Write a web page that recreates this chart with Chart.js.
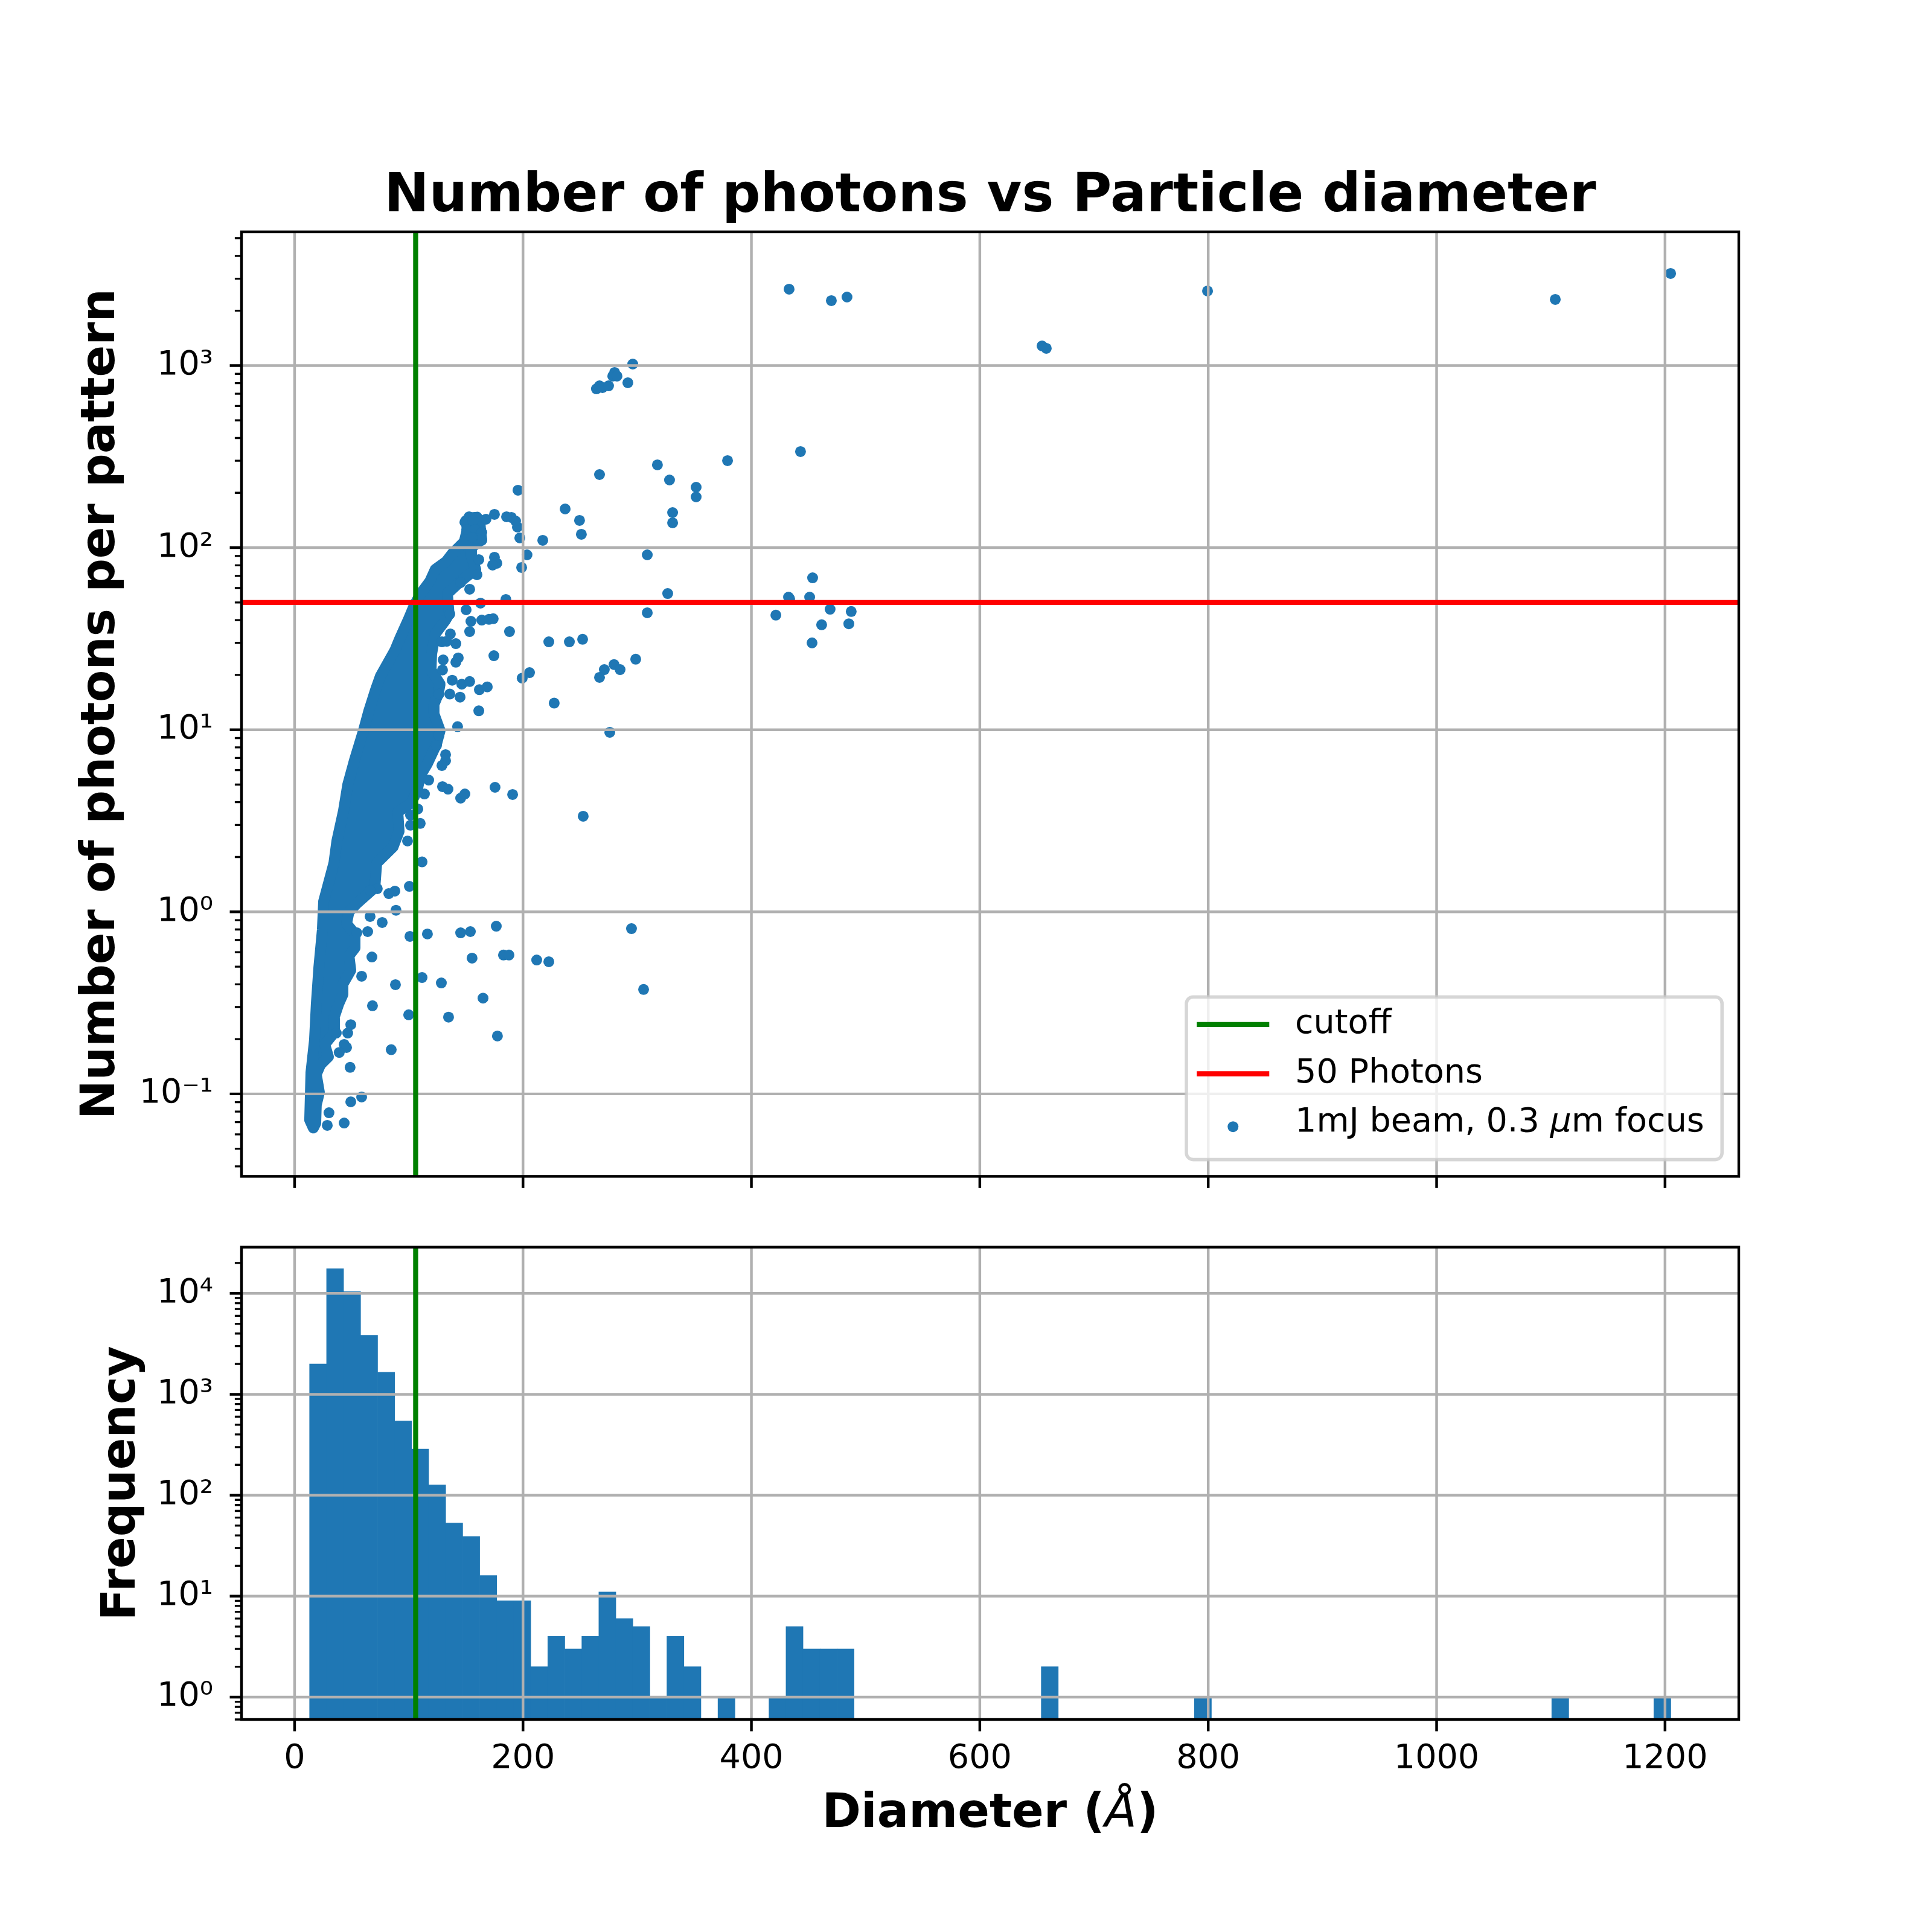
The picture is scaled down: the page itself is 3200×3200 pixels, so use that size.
<!DOCTYPE html>
<html>
<head>
<meta charset="utf-8">
<script src="https://cdn.jsdelivr.net/npm/chart.js@4.4.1/dist/chart.umd.min.js"></script>
<style>
html,body{margin:0;padding:0;background:#ffffff;}
#wrap{position:relative;width:3200px;height:3200px;background:#ffffff;overflow:hidden;}
canvas{position:absolute;left:0;}
</style>
</head>
<body>
<div id="wrap">
<canvas id="topChart" width="3200" height="2030" style="top:0px;width:3200px;height:2030px;"></canvas>
<canvas id="botChart" width="3200" height="1210" style="top:1990px;width:3200px;height:1210px;"></canvas>
</div>
<script>
// ---------------- DATA ----------------
// isolated scatter points: diameter (Å) and photons per pattern
const photonDiameter = [
  111.6,100.5,87.8,82.5,72.4,66.1,88.8,76.7,66.1,64.0,54.5,101.0,116.3,145.4,153.9,176.6,67.7,155.4,182.9,187.7,212.0,222.6,58.7,111.6,88.3,128.5,165.0,68.2,99.9,134.8,49.2,46.5,36.5,177.6,43.4,45.5,39.1,84.6,48.6,58.7,49.2,30.1,28.6,43.4,
  203.5,175.0,177.1,173.4,198.8,161.3,159.7,153.3,145.4,185.0,162.8,150.2,135.9,154.4,163.9,170.2,173.9,153.3,188.2,136.4,141.2,129.0,133.2,222.6,174.5,143.3,141.2,130.1,129.5,205.7,199.3,138.0,146.4,153.3,161.8,168.7,135.9,144.9,126.4,227.3,161.3,142.7,126.4,124.2,132.2,132.2,129.0,117.4,129.5,134.3,175.5,190.9,145.4,149.1,113.7,107.9,101.5,110.0,101.5,98.9,
  195.6,267.0,317.7,328.3,351.6,351.6,236.9,249.5,251.1,331.0,331.0,217.3,197.2,195.1,193.5,189.8,185.6,175.0,167.6,152.8,149.1,156.0,150.7,158.1,163.9,163.9,159.7,155.4,308.8,326.7,308.8,240.6,252.2,298.7,271.2,267.0,279.7,285.0,276.0,
  379.1,443.0,453.6,432.5,433.5,451.0,421.4,468.9,487.4,461.5,485.3,453.1,
  252.7,295.0,305.6,
  433.0,470.0,483.7,296.1,280.2,278.6,282.3,267.0,264.3,269.6,274.9,291.8,
  799.4,1103.9,1204.9,654.5,658.2
];
const photonCount = [
  1.88,1.38,1.30,1.26,1.34,1.31,1.02,0.874,0.943,0.779,0.767,0.733,0.756,0.767,0.779,0.834,0.565,0.557,0.579,0.579,0.544,0.532,0.443,0.436,0.398,0.407,0.336,0.305,0.272,0.264,0.240,0.216,0.216,0.208,0.187,0.180,0.169,0.175,0.140,0.0962,0.0905,0.0788,0.0672,0.0692,
  91.3,88.6,82.1,80.2,77.8,85.9,71.0,59.1,64.3,51.9,49.6,45.6,43.2,39.4,40.0,40.4,40.7,34.6,34.6,33.6,29.7,30.4,30.6,30.4,25.5,24.8,23.5,24.2,21.3,20.6,19.2,18.7,17.8,18.4,16.6,17.2,15.7,15.1,15.7,14.0,12.7,10.4,9.32,8.18,7.30,6.76,6.36,5.29,4.87,4.72,4.83,4.41,4.21,4.44,4.44,3.67,3.40,3.06,2.99,2.45,
  206.7,252.0,284.9,235.3,214.7,190.0,163.2,141.1,118.4,155.8,136.9,109.7,113.1,129.8,140.0,146.6,147.7,152.3,143.3,147.7,137.9,140.0,125.9,125.9,121.1,109.7,112.2,113.9,91.3,56.0,43.9,30.4,31.4,24.4,21.4,19.4,22.8,21.4,9.68,
  300.5,337.1,68.3,53.5,52.3,53.5,42.6,45.9,44.6,37.7,38.2,30.0,
  3.35,0.809,0.375,
  2627,2272,2378,1019,916,875,875,774,745,757,774,805,
  2567,2307,3203,1282,1243
];
// outline (centres of the outermost markers) of the saturated cloud of points
const bandDiameter = [
  16.4,13.2,14.3,17.4,19.0,21.2,24.3,25.4,30.1,34.4,37.0,42.8,46.5,52.3,60.3,65.0,70.8,75.1,82.0,87.8,92.0,99.9,104.7,110.5,118.4,123.2,132.7,138.0,143.3,148.6,151.2,150.2,154.9,159.7,
  162.3,162.8,163.9,154.9,154.9,158.6,145.4,133.8,135.3,132.2,123.2,120.0,119.5,127.4,125.8,122.1,122.1,127.4,124.2,116.3,110.0,107.3,102.0,90.4,91.5,86.2,71.9,70.3,54.5,47.6,45.5,52.9,52.9,47.6,49.2,42.3,42.3,38.6,34.4,34.9,26.4,29.6,22.7,19.0,21.7,19.0,18.5,16.4
];
const bandCount = [
  0.065,0.072,0.131,0.197,0.312,0.493,0.797,1.14,1.47,1.85,2.45,3.59,4.98,6.76,9.90,12.7,16.5,19.7,23.5,27.3,31.6,40.7,48.1,56.0,65.3,76.0,84.0,92.7,100,108,126,141,146,147,
  139,126,111,100,88.6,76.0,65.3,56.0,43.2,40.0,33.6,26.1,21.3,17.8,15.7,13.8,12.2,9.90,8.31,6.51,5.58,4.62,3.96,3.53,2.77,2.27,1.85,1.36,1.11,1.00,0.860,0.756,0.634,0.574,0.478,0.401,0.352,0.312,0.260,0.218,0.187,0.160,0.145,0.128,0.102,0.087,0.069,0.065
];
const cutoffDiameter = 106;
const photonThreshold = 50;
// histogram: 80 equal bins starting at histStart
const histCounts = [
  2000,17600,10400,3850,1655,545,287,127,53,39,16,9,9,2,4,3,4,11,6,5,1,4,2,0,1,0,0,1,5,3,3,3,
  0,0,0,0,0,0,0,0,0,0,0,2,0,0,0,0,0,0,0,0,1,
  0,0,0,0,0,0,0,0,0,0,0,0,0,0,0,0,0,0,0,0,1,0,0,0,0,0,1
];
const histStart = 13.1;
const histBinWidth = 14.9;
const xTickValues = [0, 200, 400, 600, 800, 1000, 1200];
const topYTickValues = [0.1, 1, 10, 100, 1000];
const botYTickValues = [1, 10, 100, 1000, 10000];
const xLimits = [-46.5, 1264.6];
const topYLimits = [0.03527, 5425];
const botYLimits = [0.612, 28710];

const seriesLabels = ['cutoff', '50 Photons', '1mJ beam, 0.3 μm focus'];
const titleText = 'Number of photons vs Particle diameter';
const topYLabel = 'Number of photons per pattern';
const botYLabel = 'Frequency';
const xLabel = 'Diameter (Å)';

// ---------------- STYLE ----------------
const PT = 400 / 72;
const FONT = 'DejaVu Sans';
const C = { blue: '#1f77b4', green: '#008000', red: '#ff0000', grid: '#b0b0b0' };
Chart.defaults.color = '#000';
Chart.defaults.font.family = FONT;

const SUP = {'-':'\u207B','0':'\u2070','1':'\u00B9','2':'\u00B2','3':'\u00B3','4':'\u2074','5':'\u2075','6':'\u2076','7':'\u2077','8':'\u2078','9':'\u2079'};
function pow10Label(v) {
  const e = Math.round(Math.log10(v));
  return '10' + String(e).split('').map(ch => SUP[ch]).join('');
}

function drawGrid(chart) {
  const {ctx, chartArea: a, scales: {x, y}} = chart;
  ctx.save();
  ctx.beginPath(); ctx.rect(a.left, a.top, a.right - a.left, a.bottom - a.top); ctx.clip();
  ctx.strokeStyle = C.grid; ctx.lineWidth = 0.8 * PT; ctx.lineCap = 'butt';
  ctx.beginPath();
  x.ticks.forEach(t => { const p = x.getPixelForValue(t.value); ctx.moveTo(p, a.top); ctx.lineTo(p, a.bottom); });
  y.ticks.forEach(t => { const p = y.getPixelForValue(t.value); ctx.moveTo(a.left, p); ctx.lineTo(a.right, p); });
  ctx.stroke();
  ctx.restore();
}

function drawFrame(chart) {
  const {ctx, chartArea: a, scales: {x, y}} = chart;
  ctx.save();
  ctx.strokeStyle = '#000'; ctx.lineCap = 'butt';
  ctx.lineWidth = 0.8 * PT;
  ctx.beginPath();
  x.ticks.forEach(t => { const p = x.getPixelForValue(t.value); ctx.moveTo(p, a.bottom); ctx.lineTo(p, a.bottom + 3.5 * PT); });
  y.ticks.forEach(t => { const p = y.getPixelForValue(t.value); ctx.moveTo(a.left - 3.5 * PT, p); ctx.lineTo(a.left, p); });
  ctx.stroke();
  ctx.lineWidth = 0.6 * PT;
  ctx.beginPath();
  const e0 = Math.floor(Math.log10(y.min)), e1 = Math.ceil(Math.log10(y.max));
  for (let e = e0; e <= e1; e++) {
    for (let k = 2; k <= 9; k++) {
      const v = k * Math.pow(10, e);
      if (v <= y.min || v >= y.max) continue;
      const p = y.getPixelForValue(v);
      ctx.moveTo(a.left - 2 * PT, p); ctx.lineTo(a.left, p);
    }
  }
  ctx.stroke();
  ctx.lineWidth = 0.8 * PT; ctx.lineJoin = 'miter';
  ctx.strokeRect(a.left, a.top, a.right - a.left, a.bottom - a.top);
  ctx.restore();
}

function roundRectPath(ctx, x, y, w, h, r) {
  ctx.beginPath();
  ctx.moveTo(x + r, y);
  ctx.lineTo(x + w - r, y); ctx.arcTo(x + w, y, x + w, y + r, r);
  ctx.lineTo(x + w, y + h - r); ctx.arcTo(x + w, y + h, x + w - r, y + h, r);
  ctx.lineTo(x + r, y + h); ctx.arcTo(x, y + h, x, y + h - r, r);
  ctx.lineTo(x, y + r); ctx.arcTo(x, y, x + r, y, r);
  ctx.closePath();
}

function drawLegend(chart) {
  const ctx = chart.ctx, a = chart.chartArea, F = 10 * PT;
  const items = chart.data.datasets.filter(d => d.label);
  const fontN = F + 'px "' + FONT + '"', fontI = 'italic ' + F + 'px "' + FONT + '"';
  const segs = s => s.split(/(μ)/).filter(t => t.length).map(t => ({t, it: t === 'μ'}));
  ctx.save();
  const widthOf = s => segs(s).reduce((w, g) => { ctx.font = g.it ? fontI : fontN; return w + ctx.measureText(g.t).width; }, 0);
  const textW = Math.max(...items.map(d => widthOf(d.label)));
  const padL = 0.31 * F, handleLen = 2.16 * F, gap = 0.77 * F, padR = 0.53 * F;
  const rowH = 1.468 * F, topPad = 0.822 * F, botPad = 1.09 * F;
  const boxW = padL + handleLen + gap + textW + padR;
  const boxH = topPad + (items.length - 1) * rowH + botPad;
  const right = a.right - 0.5 * F, bottom = a.bottom - 0.5 * F;
  const left = right - boxW, top = bottom - boxH;
  roundRectPath(ctx, left, top, boxW, boxH, 0.2 * F);
  ctx.fillStyle = 'rgba(255,255,255,0.8)'; ctx.fill();
  ctx.strokeStyle = 'rgba(204,204,204,0.8)'; ctx.lineWidth = 1.0 * PT; ctx.stroke();
  items.forEach((d, i) => {
    const cy = top + topPad + i * rowH;
    const hx = left + padL;
    if (d.legendKind === 'dot') {
      ctx.beginPath(); ctx.arc(hx + handleLen / 2, cy + 0.11 * F, d.pointRadius, 0, Math.PI * 2);
      ctx.fillStyle = d.backgroundColor; ctx.fill();
    } else {
      ctx.beginPath(); ctx.moveTo(hx, cy); ctx.lineTo(hx + handleLen, cy);
      ctx.strokeStyle = d.borderColor; ctx.lineWidth = d.borderWidth; ctx.lineCap = 'butt'; ctx.stroke();
    }
    let tx = hx + handleLen + gap;
    ctx.fillStyle = '#000'; ctx.textBaseline = 'middle'; ctx.textAlign = 'left';
    segs(d.label).forEach(g => { ctx.font = g.it ? fontI : fontN; ctx.fillText(g.t, tx, cy); tx += ctx.measureText(g.t).width; });
  });
  ctx.restore();
}

// x-axis label with the Å symbol set in italic (as the reference's math text)
function drawXLabel(chart, text) {
  const ctx = chart.ctx, a = chart.chartArea, F = 14 * PT;
  const fontB = 'bold ' + F + 'px "' + FONT + '"', fontI = 'italic ' + F + 'px "' + FONT + '"';
  const segs = text.split(/(Å)/).filter(t => t.length).map(t => ({t, f: t === 'Å' ? fontI : fontB}));
  ctx.save();
  let w = 0;
  segs.forEach(g => { ctx.font = g.f; g.w = ctx.measureText(g.t).width; w += g.w; });
  let x = (a.left + a.right) / 2 - w / 2;
  const y = a.bottom + 158;
  ctx.fillStyle = '#000'; ctx.textBaseline = 'middle'; ctx.textAlign = 'left';
  segs.forEach(g => { ctx.font = g.f; ctx.fillText(g.t, x, y); x += g.w; });
  ctx.restore();
}

const mplDecor = {
  id: 'mplDecor',
  afterDatasetDraw(chart, args) {
    const ds = chart.data.datasets[args.index];
    if (ds && ds.gridAfter) drawGrid(chart);
  },
  afterDraw(chart, args, opts) {
    drawFrame(chart);
    if (opts && opts.legend) drawLegend(chart);
    if (opts && opts.xLabel) drawXLabel(chart, opts.xLabel);
  }
};

const tickFont = { family: FONT, size: 10 * PT };
const labelFont = { family: FONT, size: 14 * PT, weight: 'bold' };
const setTicks = vals => scale => { scale.ticks = vals.map(v => ({ value: v })); };

// ---------------- TOP: scatter ----------------
const scatterPoints = photonDiameter.map((d, i) => ({ x: d, y: photonCount[i] }));
const bandPoints = bandDiameter.map((d, i) => ({ x: d, y: bandCount[i] }));

new Chart(document.getElementById('topChart'), {
  type: 'scatter',
  data: {
    datasets: [
      { type: 'line', label: seriesLabels[0], legendKind: 'line',
        data: [{ x: cutoffDiameter, y: topYLimits[0] }, { x: cutoffDiameter, y: topYLimits[1] }],
        borderColor: C.green, backgroundColor: C.green, borderWidth: 1.5 * PT, pointRadius: 0, fill: false, order: 1 },
      { type: 'line', label: seriesLabels[1], legendKind: 'line',
        data: [{ x: xLimits[0], y: photonThreshold }, { x: xLimits[1], y: photonThreshold }],
        borderColor: C.red, backgroundColor: C.red, borderWidth: 1.5 * PT, pointRadius: 0, fill: false, order: 0 },
      { type: 'scatter', label: seriesLabels[2], legendKind: 'dot', data: scatterPoints,
        backgroundColor: C.blue, borderColor: C.blue, borderWidth: 0, pointRadius: 9, pointHoverRadius: 9, order: 3, gridAfter: true },
      { type: 'line', data: bandPoints, borderColor: C.blue, backgroundColor: C.blue, borderWidth: 18,
        borderJoinStyle: 'round', borderCapStyle: 'round', pointRadius: 0, tension: 0, fill: 'shape', order: 4 }
    ]
  },
  options: {
    responsive: false, animation: false, devicePixelRatio: 1, events: [],
    layout: { padding: { left: 0, right: 320, top: 0, bottom: 51.6 } },
    plugins: {
      legend: { display: false }, tooltip: { enabled: false },
      title: { display: true, text: titleText, color: '#000', fullSize: false,
        font: { family: FONT, size: 16 * PT, weight: 'bold' }, padding: { top: 274, bottom: 3.3 } },
      mplDecor: { legend: true }
    },
    scales: {
      x: { type: 'linear', min: xLimits[0], max: xLimits[1],
        grid: { display: false }, border: { display: false }, ticks: { display: false },
        afterBuildTicks: setTicks(xTickValues), afterFit: s => { s.height = 30; } },
      y: { type: 'logarithmic', min: topYLimits[0], max: topYLimits[1],
        grid: { display: false }, border: { display: false },
        ticks: { font: tickFont, color: '#000', padding: 39, autoSkip: false, callback: v => pow10Label(v) },
        afterBuildTicks: setTicks(topYTickValues), afterFit: s => { s.width = 400; },
        title: { display: true, text: topYLabel, color: '#000', font: labelFont, padding: { top: 122.3, bottom: 0 } } }
    }
  },
  plugins: [mplDecor]
});

// ---------------- BOTTOM: histogram ----------------
const histBars = histCounts
  .map((c, i) => ({ x: histStart + histBinWidth * (i + 0.5), y: c }))
  .filter(p => p.y > 0);

new Chart(document.getElementById('botChart'), {
  type: 'bar',
  data: {
    datasets: [
      { type: 'bar', data: histBars, backgroundColor: C.blue, borderWidth: 0,
        barPercentage: 1, categoryPercentage: 1, order: 3, gridAfter: true },
      { type: 'line', data: [{ x: cutoffDiameter, y: botYLimits[0] }, { x: cutoffDiameter, y: botYLimits[1] }],
        borderColor: C.green, backgroundColor: C.green, borderWidth: 1.5 * PT, pointRadius: 0, fill: false, order: 1 }
    ]
  },
  options: {
    responsive: false, animation: false, devicePixelRatio: 1, events: [],
    layout: { padding: { left: 0, right: 320, top: 75.7, bottom: 0 } },
    plugins: { legend: { display: false }, tooltip: { enabled: false }, mplDecor: { legend: false, xLabel: xLabel } },
    scales: {
      x: { type: 'linear', offset: false, min: xLimits[0], max: xLimits[1],
        grid: { display: false, offset: false }, border: { display: false },
        ticks: { font: tickFont, color: '#000', padding: 24, maxRotation: 0, autoSkip: false, callback: v => String(v) },
        afterBuildTicks: setTicks(xTickValues), afterFit: s => { s.height = 352; } },
      y: { type: 'logarithmic', min: botYLimits[0], max: botYLimits[1],
        grid: { display: false }, border: { display: false },
        ticks: { font: tickFont, color: '#000', padding: 39, autoSkip: false, callback: v => pow10Label(v) },
        afterBuildTicks: setTicks(botYTickValues), afterFit: s => { s.width = 400; },
        title: { display: true, text: botYLabel, color: '#000', font: labelFont, padding: { top: 156.3, bottom: 0 } } }
    }
  },
  plugins: [mplDecor]
});
</script>
</body>
</html>
